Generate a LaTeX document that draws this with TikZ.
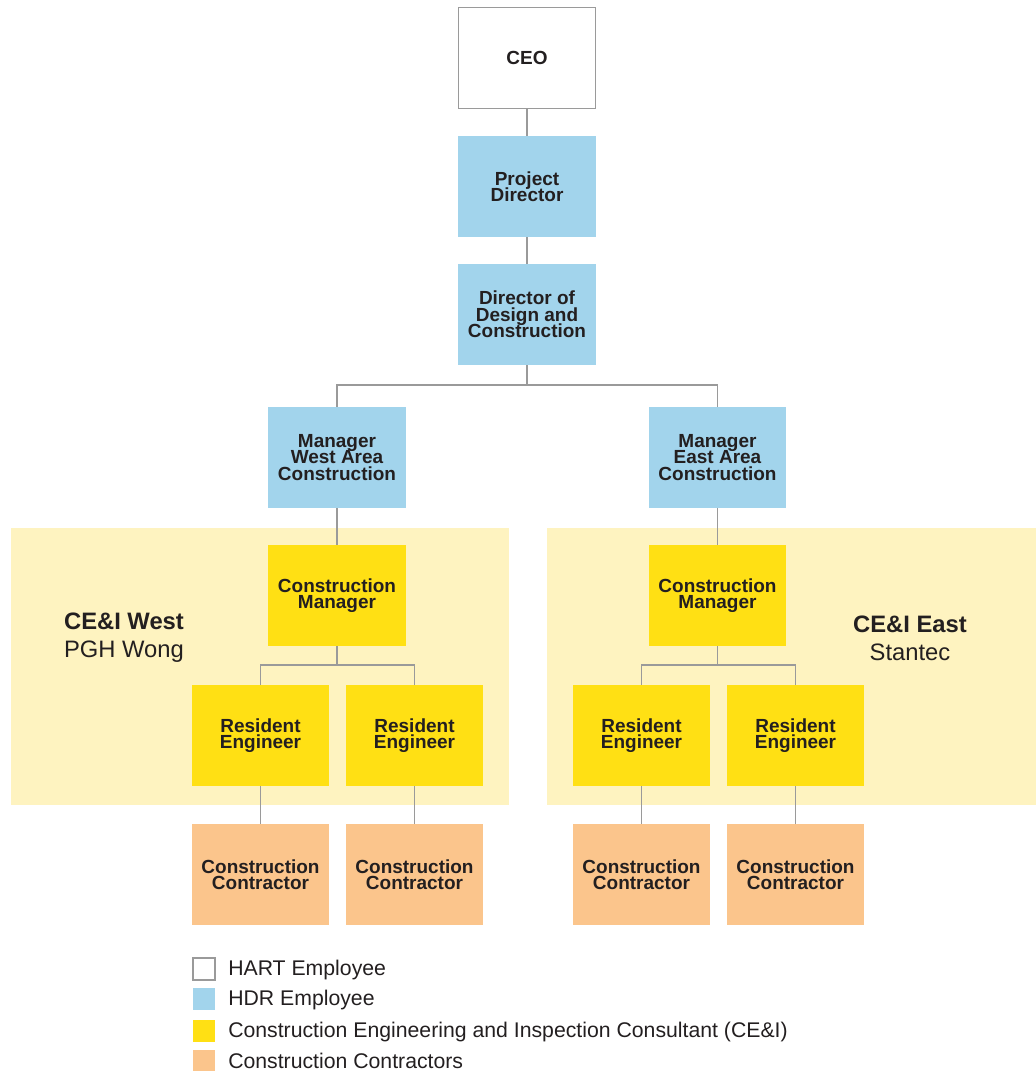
\documentclass[tikz,border=0pt]{standalone}
\usepackage{fontspec}
\setmainfont{Liberation Sans}
\usepackage{tikz}
\usetikzlibrary{calc,positioning}

\definecolor{ink}{HTML}{231F20}
\definecolor{linegray}{HTML}{9A9A9A}
\definecolor{hdrblue}{HTML}{A2D4EC}
\definecolor{ceiyellow}{HTML}{FFE014}
\definecolor{contorange}{HTML}{FBC58C}
\definecolor{panelyellow}{HTML}{FEF3C0}

\newcommand{\boxfont}{\bfseries\fontsize{13.5}{11.6}\selectfont\lineskiplimit-20pt\relax}

\begin{document}
\begin{tikzpicture}[x=0.025cm, y=-0.025cm]
      \tikzstyle{pbox} = [minimum width=3.425cm, minimum height=2.525cm, inner sep=0pt, align=center, text=ink, font=\boxfont]
      \tikzstyle{hart} = [pbox, draw=linegray, fill=white, line width=1pt]
      \tikzstyle{hdr} = [pbox, fill=hdrblue]
      \tikzstyle{cei} = [pbox, fill=ceiyellow]
      \tikzstyle{cont} = [pbox, fill=contorange]
      \tikzstyle{link} = [draw=linegray, line width=1.1pt]
      \tikzstyle{grouptext} = [align=center, text=ink, inner sep=0pt, font=\fontsize{16.9}{19.9}\selectfont]
      \tikzstyle{keybox} = [minimum size=0.55cm, inner sep=0pt]
      \tikzstyle{keytext} = [anchor=west, inner sep=0pt, text=ink, font=\fontsize{15.1}{18}\selectfont]

      \useasboundingbox (0,0) rectangle (1036,1071);

      % CE&I areas
      \fill[panelyellow] (11,528) rectangle (509,805);
      \fill[panelyellow] (547,528) rectangle (1036,805);

      \node[grouptext] (westlbl) at (124,638) {\textbf{CE\&I West}\\PGH Wong};
      \node[grouptext] (eastlbl) at (910,638) {\textbf{CE\&I East}\\Stantec};

      \node[hart] (ceo) at (527,58) {CEO};
      \node[hdr] (pd) at (527,186.5) {Project\\Director};
      \node[hdr] (ddc) at (527,314.5) {Director of\\Design and\\Construction};

      \node[hdr] (mw) at (337,457.5) {Manager\\West Area\\Construction};
      \node[hdr] (me) at (717.5,457.5) {Manager\\East Area\\Construction};

      \node[cei] (cmw) at (337,595.5) {Construction\\Manager};
      \node[cei] (cme) at (717.5,595.5) {Construction\\Manager};

      \node[cei] (rew1) at (260.5,735.5) {Resident\\Engineer};
      \node[cei] (rew2) at (414.5,735.5) {Resident\\Engineer};
      \node[cei] (ree1) at (641.5,735.5) {Resident\\Engineer};
      \node[cei] (ree2) at (795.5,735.5) {Resident\\Engineer};

      \node[cont] (ccw1) at (260.5,874.5) {Construction\\Contractor};
      \node[cont] (ccw2) at (414.5,874.5) {Construction\\Contractor};
      \node[cont] (cce1) at (641.5,874.5) {Construction\\Contractor};
      \node[cont] (cce2) at (795.5,874.5) {Construction\\Contractor};

      \coordinate (topbus) at (527,385);
      \coordinate (wbus) at (337,665);
      \coordinate (ebus) at (717.5,665);

      \draw[link] (ceo) to (pd);
      \draw[link] (pd) to (ddc);
      \draw[link] (ddc) -- (topbus) -| (mw);
      \draw[link] (topbus) -| (me);
      \draw[link] (mw) to (cmw);
      \draw[link] (me) to (cme);
      \draw[link] (cmw) -- (wbus) -| (rew1);
      \draw[link] (wbus) -| (rew2);
      \draw[link] (cme) -- (ebus) -| (ree1);
      \draw[link] (ebus) -| (ree2);
      \draw[link] (rew1) to (ccw1);
      \draw[link] (rew2) to (ccw2);
      \draw[link] (ree1) to (cce1);
      \draw[link] (ree2) to (cce2);

      % legend
      \node[keybox, draw=linegray, line width=1pt, fill=white] (khart) at (204,969) {};
      \node[keybox, fill=hdrblue] (khdr) at (204,999) {};
      \node[keybox, fill=ceiyellow] (kcei) at (204,1031) {};
      \node[keybox, fill=contorange] (kcont) at (204,1060.5) {};

      \node[keytext] (thart) at (228,970) {HART Employee};
      \node[keytext] (thdr) at (228,1000) {HDR Employee};
      \node[keytext] (tcei) at (228,1032) {Construction Engineering and Inspection Consultant (CE\&I)};
      \node[keytext] (tcont) at (228,1061) {Construction Contractors};
    \end{tikzpicture}
\end{document}
